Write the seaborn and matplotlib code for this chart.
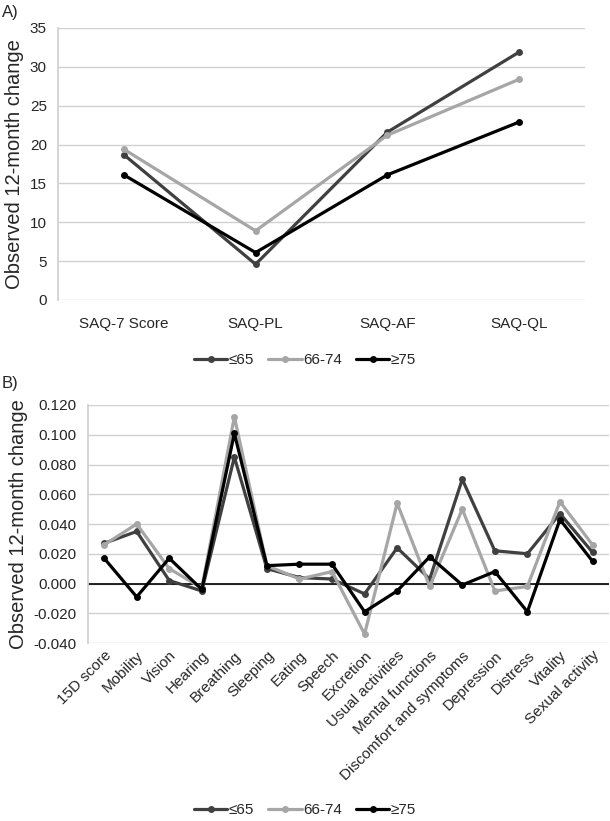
import numpy as np
import pandas as pd
import matplotlib
matplotlib.use("Agg")
import matplotlib.pyplot as plt
import seaborn as sns

groups = ["≤65", "66-74", "≥75"]
colors = ["#404040", "#a6a6a6", "#000000"]

# panel A - SAQ domains
saq_cats = ["SAQ-7 Score", "SAQ-PL", "SAQ-AF", "SAQ-QL"]
saq_le65 = [18.7, 4.6, 21.6, 31.9]
saq_66_74 = [19.4, 8.9, 21.2, 28.4]
saq_ge75 = [16.1, 6.1, 16.1, 22.9]

# panel B - 15D dimensions
d15_cats = ["15D score", "Mobility", "Vision", "Hearing", "Breathing", "Sleeping",
            "Eating", "Speech", "Excretion", "Usual activities", "Mental functions",
            "Discomfort and symptoms", "Depression", "Distress", "Vitality",
            "Sexual activity"]
d15_le65 = [0.027, 0.035, 0.002, -0.005, 0.085, 0.010, 0.004, 0.003, -0.007,
            0.024, 0.003, 0.070, 0.022, 0.020, 0.047, 0.021]
d15_66_74 = [0.026, 0.040, 0.010, -0.003, 0.112, 0.012, 0.003, 0.008, -0.034,
             0.054, -0.002, 0.050, -0.005, -0.002, 0.055, 0.026]
d15_ge75 = [0.017, -0.009, 0.017, -0.004, 0.101, 0.012, 0.013, 0.013, -0.019,
            -0.005, 0.018, -0.001, 0.008, -0.019, 0.043, 0.015]


def long_df(cats, series):
    rows = []
    for g, vals in zip(groups, series):
        for c, v in zip(cats, vals):
            rows.append({"cat": c, "val": v, "group": g})
    return pd.DataFrame(rows)


sns.set_theme(style="white")
plt.rcParams["font.family"] = ["Liberation Sans", "DejaVu Sans"]

fig = plt.figure(figsize=(6.1, 8.21), dpi=100)
axA = fig.add_axes([0.095, 0.6346, 0.864, 0.3313])
axB = fig.add_axes([0.144, 0.2168, 0.854, 0.2899])

pal = dict(zip(groups, colors))


def draw(ax, cats, series):
    df = long_df(cats, series)
    sns.lineplot(data=df, x="cat", y="val", hue="group", palette=pal,
                 marker="o", markersize=5, markeredgewidth=0, linewidth=2.3,
                 sort=False, ax=ax, legend=True)
    ax.set_xlim(-0.5, len(cats) - 0.5)
    ax.set_xlabel("")
    ax.set_ylabel("Observed 12-month change", fontsize=14.5)
    ax.yaxis.grid(True, color="#d0d0d0", linewidth=1)
    ax.set_axisbelow(True)
    for s in ["top", "right", "bottom"]:
        ax.spines[s].set_visible(False)
    ax.spines["left"].set_color("#d0d0d0")
    ax.tick_params(axis="both", length=0, labelsize=11)


# ------------------------------------------------------------ panel A
draw(axA, saq_cats, [saq_le65, saq_66_74, saq_ge75])
axA.set_ylim(0, 35)
axA.set_yticks(range(0, 36, 5))
axA.tick_params(axis="x", pad=12)
axA.tick_params(axis="y", pad=8)
axA.legend_.remove()
h, l = axA.get_legend_handles_labels()
fig.legend(h, l, loc="center", bbox_to_anchor=(0.5, 1 - 360 / 821), ncol=3,
           frameon=False, fontsize=11, handlelength=2.2, handletextpad=0.1,
           columnspacing=0.9)
fig.text(0.003, 0.985, "A)", fontsize=12, va="center")

# ------------------------------------------------------------ panel B
draw(axB, d15_cats, [d15_le65, d15_66_74, d15_ge75])
axB.set_ylim(-0.04, 0.12)
axB.set_yticks(np.arange(-0.04, 0.1201, 0.02))
axB.set_yticklabels([f"{v:.3f}" for v in np.arange(-0.04, 0.1201, 0.02)])
axB.axhline(0, color="black", linewidth=1.2, zorder=1)
axB.set_xticks(range(len(d15_cats)))
axB.set_xticklabels(d15_cats, rotation=45, ha="right", rotation_mode="anchor")
axB.tick_params(axis="x", pad=4)
axB.tick_params(axis="y", pad=8)
axB.legend_.remove()
h, l = axB.get_legend_handles_labels()
fig.legend(h, l, loc="center", bbox_to_anchor=(0.5, 1 - 810 / 821), ncol=3,
           frameon=False, fontsize=11, handlelength=2.2, handletextpad=0.1,
           columnspacing=0.9)
fig.text(0.003, 1 - 383 / 821, "B)", fontsize=12, va="center")

fig.savefig("out.png", dpi=100)
